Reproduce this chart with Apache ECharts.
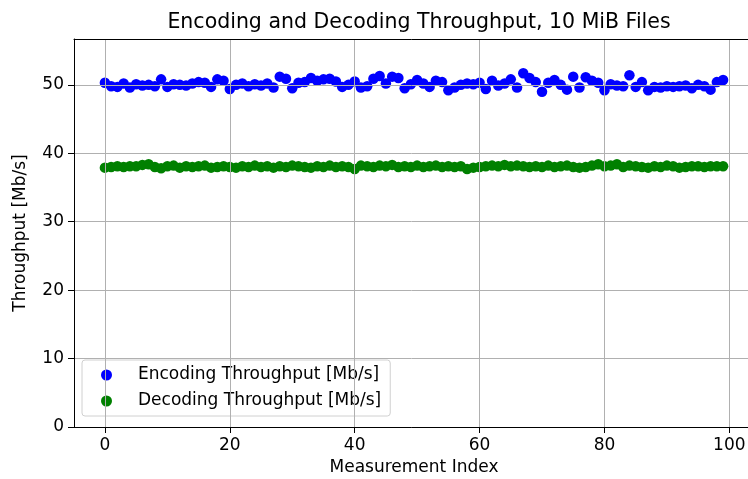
<!DOCTYPE html>
<html>
<head>
<meta charset="utf-8">
<script src="https://cdn.jsdelivr.net/npm/echarts@6/dist/echarts.min.js"></script>
<style>
  html, body { margin: 0; padding: 0; background: #fff; }
  #chart { width: 748px; height: 479px; }
</style>
</head>
<body>
<div id="chart"></div>
<script>
// measured throughput values, one per measurement index
const encoding = [
    50.3, 49.8, 49.7, 50.2, 49.6, 50.1, 49.9, 50.0, 49.8, 50.8,
    49.7, 50.1, 50.0, 49.9, 50.2, 50.4, 50.3, 49.7, 50.8, 50.6,
    49.4, 50.0, 50.2, 49.8, 50.1, 49.9, 50.2, 49.6, 51.2, 50.9,
    49.5, 50.3, 50.4, 51.0, 50.6, 50.8, 50.9, 50.5, 49.7, 50.0,
    50.5, 49.6, 49.8, 50.9, 51.3, 50.2, 51.2, 51.0, 49.5, 50.1,
    50.7, 50.2, 49.7, 50.6, 50.4, 49.2, 49.6, 50.0, 50.2, 50.1,
    50.3, 49.4, 50.6, 49.9, 50.2, 50.8, 49.6, 51.7, 51.0, 50.4,
    49.0, 50.3, 50.7, 50.0, 49.3, 51.2, 49.6, 51.1, 50.6, 50.3,
    49.2, 50.1, 49.9, 49.8, 51.4, 49.7, 50.4, 49.2, 49.7, 49.6,
    49.8, 49.7, 49.8, 49.9, 49.5, 50.0, 49.8, 49.3, 50.4, 50.7
];
const decoding = [
    37.9, 38.0, 38.1, 38.0, 38.1, 38.1, 38.3, 38.4, 38.0, 37.8,
    38.1, 38.2, 37.9, 38.1, 38.0, 38.1, 38.2, 37.9, 38.0, 38.1,
    38.0, 37.9, 38.1, 38.0, 38.2, 38.0, 38.1, 37.9, 38.1, 38.0,
    38.2, 38.1, 38.0, 37.9, 38.1, 38.0, 38.2, 38.0, 38.1, 38.0,
    37.7, 38.2, 38.1, 38.0, 38.2, 38.1, 38.3, 38.0, 38.1, 38.0,
    38.2, 38.0, 38.1, 38.2, 38.0, 38.1, 38.0, 38.1, 37.7, 37.9,
    38.0, 38.1, 38.2, 38.1, 38.3, 38.1, 38.2, 38.1, 38.0, 38.1,
    38.0, 38.2, 38.0, 38.1, 38.2, 38.0, 37.9, 38.0, 38.2, 38.4,
    38.1, 38.2, 38.4, 38.0, 38.2, 38.1, 38.0, 37.9, 38.1, 38.0,
    38.2, 38.1, 37.9, 38.0, 38.1, 38.1, 38.0, 38.1, 38.1, 38.1
];
const xTicks = [0, 20, 40, 60, 80, 100];
const yTicks = [0, 10, 20, 30, 40, 50];

const font = '"DejaVu Sans", sans-serif';
const chart = echarts.init(document.getElementById('chart'));

const toPoints = (values) => values.map((v, i) => [i, v]);
const gridColor = '#b0b0b0';
const labelSize = 17;
const spine = { color: '#000', width: 1 };

chart.setOption({
    animation: false,
    backgroundColor: '#fff',
    textStyle: { fontFamily: font },
    title: {
        text: 'Encoding and Decoding Throughput, 10 MiB Files',
        left: 414,
        top: 7,
        textAlign: 'center',
        textStyle: { fontFamily: font, fontSize: 20.5, fontWeight: 'normal', color: '#000' },
    },
    grid: {
        left: 74,
        top: 39,
        width: 680,
        height: 388,
        outerBoundsMode: 'none',
        containLabel: false,
    },
    legend: {
        orient: 'vertical',
        left: 82,
        top: 360,
        padding: [6.5, 9, 6.5, 19],
        itemGap: 9,
        itemWidth: 11,
        itemHeight: 11,
        icon: 'circle',
        backgroundColor: 'rgba(255,255,255,0.8)',
        borderColor: '#d0d0d0',
        borderWidth: 1,
        borderRadius: 3,
        textStyle: {
            fontFamily: font,
            fontSize: labelSize,
            color: '#000',
            lineHeight: 17,
            padding: [0, 0, 0, 21],
        },
        data: ['Encoding Throughput [Mb/s]', 'Decoding Throughput [Mb/s]'],
    },
    xAxis: [
        {
            type: 'value',
            position: 'bottom',
            z: 5,
            min: -4.95,
            max: 103.95,
            name: 'Measurement Index',
            nameLocation: 'middle',
            nameGap: 32,
            nameTextStyle: { fontFamily: font, fontSize: labelSize, color: '#000' },
            axisLine: { show: true, onZero: false, lineStyle: spine },
            axisTick: { show: true, customValues: xTicks, length: 6, lineStyle: spine },
            axisLabel: { customValues: xTicks, margin: 10, fontFamily: font, fontSize: labelSize, color: '#000' },
            splitLine: { show: false },
        },
        {
            // top spine only
            type: 'value',
            position: 'top',
            z: 5,
            min: -4.95,
            max: 103.95,
            axisLine: { show: true, onZero: false, lineStyle: spine },
            axisTick: { show: false },
            axisLabel: { show: false },
            splitLine: { show: false },
        },
    ],
    yAxis: {
        type: 'value',
        position: 'left',
        z: 5,
        min: 0,
        max: 56.7,
        name: 'Throughput [Mb/s]',
        nameLocation: 'middle',
        nameRotate: 90,
        nameGap: 45,
        nameTextStyle: { fontFamily: font, fontSize: labelSize, color: '#000' },
        axisLine: { show: true, onZero: false, lineStyle: spine },
        axisTick: { show: true, customValues: yTicks, length: 6, lineStyle: spine },
        axisLabel: { customValues: yTicks, margin: 10, fontFamily: font, fontSize: labelSize, color: '#000' },
        splitLine: { show: false },
    },
    series: [
        {
            // grid lines at the tick positions
            type: 'scatter',
            data: [],
            silent: true,
            z: 1,
            markLine: {
                silent: true,
                symbol: 'none',
                label: { show: false },
                lineStyle: { color: gridColor, width: 1, type: 'solid' },
                data: [
                    ...xTicks.map((v) => ({ xAxis: v })),
                    ...yTicks.map((v) => ({ yAxis: v })),
                ],
            },
        },
        {
            name: 'Encoding Throughput [Mb/s]',
            type: 'scatter',
            symbol: 'circle',
            symbolSize: 10.5,
            z: 3,
            itemStyle: { color: '#0000ff', opacity: 1 },
            data: toPoints(encoding),
        },
        {
            name: 'Decoding Throughput [Mb/s]',
            type: 'scatter',
            symbol: 'circle',
            symbolSize: 10.5,
            z: 3,
            itemStyle: { color: '#008000', opacity: 1 },
            data: toPoints(decoding),
        },
    ],
});
</script>
</body>
</html>
